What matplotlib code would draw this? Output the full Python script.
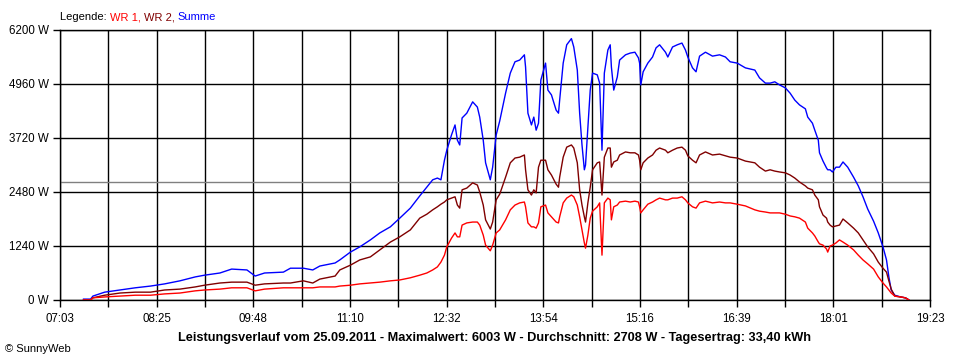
import matplotlib
matplotlib.use('Agg')
import matplotlib.pyplot as plt
import numpy as np

plt.rcParams['font.family'] = ['Liberation Sans', 'DejaVu Sans']

# Messzeitpunkte und Leistung in W
times = ['07:23', '07:29', '07:31', '07:41', '07:54', '08:07', '08:20', '08:32', '08:45', '08:58',
         '09:06', '09:19', '09:29', '09:42', '09:49', '09:57', '10:13', '10:19', '10:30', '10:38',
         '10:44', '10:57', '11:01', '11:10', '11:18', '11:27', '11:35', '11:44', '11:52', '12:01',
         '12:09', '12:15', '12:20', '12:24', '12:27', '12:30', '12:32', '12:36', '12:39', '12:41',
         '12:43', '12:45', '12:49', '12:54', '12:58', '13:00', '13:03', '13:05', '13:09', '13:11',
         '13:14', '13:17', '13:22', '13:26', '13:30', '13:34', '13:38', '13:39', '13:41', '13:44',
         '13:46', '13:48', '13:50', '13:52', '13:56', '13:58', '14:01', '14:05', '14:07', '14:08',
         '14:11', '14:14', '14:18', '14:20', '14:23', '14:25', '14:27', '14:29', '14:30', '14:32',
         '14:34', '14:36', '14:40', '14:42', '14:44', '14:46', '14:49', '14:51', '14:52', '14:54',
         '14:57', '14:59', '15:04', '15:08', '15:12', '15:15', '15:16', '15:17', '15:19', '15:23',
         '15:27', '15:30', '15:33', '15:38', '15:40', '15:44', '15:48', '15:52', '15:55', '15:57',
         '16:01', '16:04', '16:07', '16:12', '16:18', '16:24', '16:29', '16:33', '16:39', '16:46',
         '16:54', '16:58', '17:03', '17:07', '17:11', '17:15', '17:20', '17:24', '17:28', '17:32',
         '17:37', '17:39', '17:43', '17:45', '17:48', '17:49', '17:52', '17:55', '17:56', '17:58',
         '18:00', '18:03', '18:06', '18:09', '18:13', '18:18', '18:22', '18:26', '18:30', '18:35',
         '18:39', '18:43', '18:46', '18:48', '18:50', '18:53', '18:58', '19:02', '19:04', '19:05']

wr1 = [0, 0, 50, 70, 90, 110, 110, 140, 160, 210,
       230, 250, 280, 280, 210, 250, 280, 280, 280, 280,
       300, 300, 320, 340, 370, 390, 410, 440, 460, 510,
       570, 620, 690, 760, 870, 1030, 1220, 1420, 1540, 1450,
       1450, 1720, 1770, 1790, 1790, 1720, 1490, 1260, 1130, 1260,
       1540, 1610, 1840, 2070, 2180, 2230, 2250, 2140, 1770, 1680,
       1680, 1650, 1770, 2140, 2180, 2000, 1910, 1790, 1770, 1910,
       2230, 2340, 2410, 2370, 2180, 1910, 1610, 1310, 1190, 1490,
       1880, 2040, 2140, 2230, 1030, 2230, 2340, 2300, 1840, 2140,
       2180, 2250, 2270, 2250, 2270, 2250, 2140, 2000, 2070, 2200,
       2250, 2300, 2340, 2300, 2300, 2340, 2340, 2370, 2300, 2230,
       2140, 2110, 2230, 2270, 2230, 2250, 2230, 2230, 2200, 2160,
       2070, 2040, 2020, 2000, 2000, 2000, 1970, 1930, 1910, 1880,
       1790, 1650, 1540, 1470, 1330, 1290, 1260, 1170, 1100, 1240,
       1260, 1310, 1380, 1330, 1260, 1150, 1030, 920, 830, 710,
       530, 390, 300, 230, 160, 90, 70, 50, 20, 0]

wr2 = [0, 0, 50, 110, 160, 180, 180, 230, 250, 300,
       340, 390, 410, 410, 340, 370, 390, 390, 440, 390,
       480, 550, 690, 800, 920, 990, 1150, 1330, 1450, 1610,
       1880, 1970, 2070, 2140, 2200, 2250, 2300, 2340, 2370, 2180,
       2110, 2530, 2570, 2690, 2640, 2480, 2180, 1840, 1630, 1790,
       2300, 2430, 2820, 3150, 3260, 3280, 3330, 2990, 2530, 2410,
       2530, 2460, 3050, 3210, 3210, 2990, 2870, 2660, 2590, 2820,
       3280, 3510, 3560, 3490, 3150, 2530, 2180, 1910, 1790, 2230,
       2590, 2990, 3150, 3170, 2410, 3280, 3490, 3490, 3050, 3170,
       3210, 3330, 3400, 3380, 3380, 3330, 3210, 2990, 3150, 3260,
       3330, 3440, 3490, 3440, 3380, 3440, 3490, 3510, 3440, 3310,
       3210, 3150, 3330, 3400, 3330, 3350, 3310, 3280, 3260, 3190,
       3150, 3050, 2960, 2990, 2960, 2940, 2920, 2870, 2800, 2710,
       2620, 2570, 2530, 2410, 2300, 2140, 1950, 1880, 1790, 1720,
       1680, 1700, 1720, 1860, 1770, 1650, 1540, 1380, 1220, 1060,
       870, 730, 640, 440, 250, 90, 70, 50, 20, 0]

summe = [20, 20, 90, 180, 230, 280, 320, 370, 440, 530,
         570, 620, 710, 690, 550, 620, 640, 730, 730, 690,
         780, 850, 920, 1100, 1220, 1380, 1540, 1680, 1880, 2110,
         2390, 2590, 2760, 2800, 2760, 3210, 3440, 3790, 4020, 3670,
         3560, 4180, 4290, 4550, 4430, 4200, 3670, 3150, 2760, 3050,
         3790, 4110, 4750, 5210, 5470, 5510, 5630, 5350, 4290, 4020,
         4200, 3900, 4060, 5050, 5440, 4820, 4710, 4360, 4290, 4590,
         5440, 5860, 6003, 5810, 5280, 4290, 3560, 2990, 3100, 3970,
         4820, 5210, 5170, 4980, 3440, 5210, 5740, 5860, 5350, 4820,
         5120, 5510, 5630, 5670, 5690, 5560, 5440, 4940, 5240, 5440,
         5580, 5790, 5860, 5690, 5580, 5810, 5860, 5900, 5740, 5580,
         5330, 5240, 5600, 5690, 5600, 5630, 5580, 5470, 5440, 5330,
         5280, 5100, 4980, 4980, 5010, 4940, 4870, 4750, 4590, 4480,
         4390, 4200, 4060, 3900, 3670, 3380, 3190, 3030, 2990, 2990,
         2940, 3050, 3050, 3170, 3050, 2820, 2620, 2370, 2090, 1810,
         1540, 1220, 920, 530, 230, 110, 70, 50, 20, 0]

x_labels = ['07:03', '08:25', '09:48', '11:10', '12:32', '13:54', '15:16', '16:39', '18:01', '19:23']
y_ticks = [0, 1240, 2480, 3720, 4960, 6200]
durchschnitt = 2708


def to_min(s):
    h, m = s.split(':')
    return int(h) * 60 + int(m)


x = [to_min(t) for t in times]

fig = plt.figure(figsize=(9.6, 3.6), dpi=100)
ax = fig.add_axes([60 / 960, 60 / 360, 870 / 960, 270 / 360])

x_start, x_end = to_min(x_labels[0]), to_min(x_labels[-1])
ax.set_xlim(x_start, x_end)
ax.set_ylim(0, y_ticks[-1])

# Gitter: jede halbe Beschriftung eine senkrechte Linie
grid_x = np.linspace(x_start, x_end, 2 * (len(x_labels) - 1) + 1)
for gx in grid_x:
    ax.axvline(gx, color='black', lw=1, zorder=1)
for gy in y_ticks:
    ax.axhline(gy, color='black', lw=1, zorder=1)

ax.set_xticks(grid_x)
ax.set_xticklabels([x_labels[i // 2] if i % 2 == 0 else '' for i in range(len(grid_x))])
ax.set_yticks(y_ticks)
ax.set_yticklabels([f'{v} W' for v in y_ticks])
ax.tick_params(direction='out', length=5, width=1, color='black', labelsize=8.3)
ax.tick_params(axis='x', pad=4)
ax.tick_params(axis='y', pad=3)
for sp in ax.spines.values():
    sp.set_linewidth(1)
    sp.set_color('black')

ax.axhline(durchschnitt, color='#808080', lw=1, zorder=2)

ax.plot(x, summe, color='#0000FF', lw=1, zorder=3)
ax.plot(x, wr2, color='#800000', lw=1, zorder=4)
ax.plot(x, wr1, color='#FF0000', lw=1, zorder=5)

# Legende als farbiger Text
renderer = fig.canvas.get_renderer()
xpos = 60 / 960
for txt, col in [('Legende: ', 'black'), ('WR 1, ', '#FF0000'), ('WR 2, ', '#800000'), ('Summe', '#0000FF')]:
    t = fig.text(xpos, 1 - 17 / 360, txt, color=col, fontsize=8, va='center', ha='left')
    bb = t.get_window_extent(renderer=renderer)
    xpos = bb.x1 / fig.bbox.width

fig.text(495 / 960, 1 - 338 / 360,
         'Leistungsverlauf vom 25.09.2011 - Maximalwert: 6003 W - Durchschnitt: 2708 W - Tagesertrag: 33,40 kWh',
         ha='center', va='center', fontsize=9.2, fontweight='bold')
fig.text(5 / 960, 1 - 349 / 360, '© SunnyWeb', ha='left', va='center', fontsize=8)

fig.savefig('out.png', dpi=100)
